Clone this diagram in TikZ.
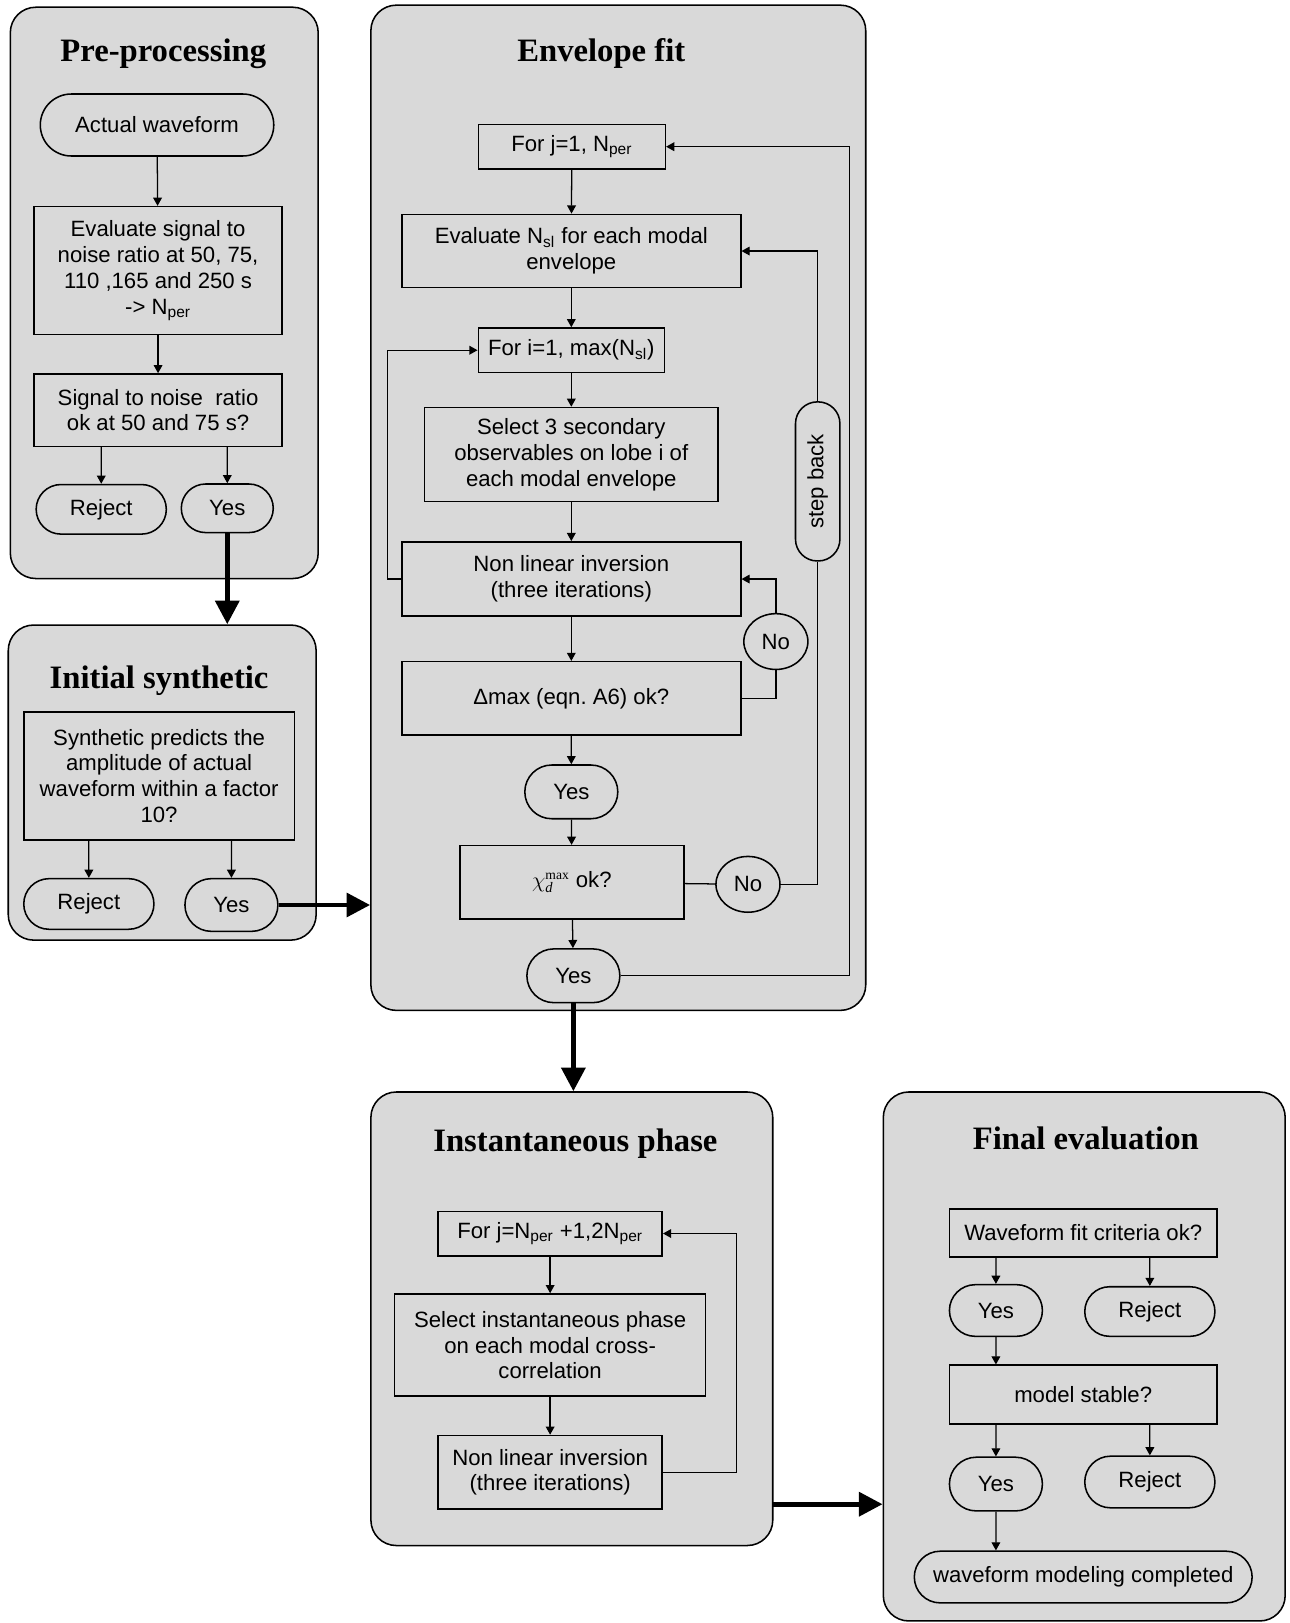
\documentclass[tikz,border=0pt]{standalone}
\usepackage{graphicx}
\usepackage{fontspec}
\setmainfont{Liberation Sans}
\newfontfamily\timesfont{Liberation Serif}
\usetikzlibrary{arrows.meta, shapes.misc, shapes.geometric}
\definecolor{panelgray}{HTML}{D9D9D9}
\newcommand{\bodysize}{\fontsize{12.2pt}{14.2pt}\selectfont}
\newcommand{\titlesize}{\timesfont\bfseries\fontsize{18pt}{20pt}\selectfont}

\begin{document}
\begin{tikzpicture}[x=0.02cm, y=-0.02cm, ->, >={Triangle[length=4.5pt, width=4.8pt]}, line width=0.7pt, font=\bodysize,
		panel/.style={draw, fill=panelgray, rounded corners=14pt, line width=0.85pt},
		title/.style={font=\titlesize, anchor=base},
		box/.style={draw, rectangle, align=center, inner sep=0pt, line width=0.85pt},
		term/.style={draw, rounded rectangle, inner sep=0pt, line width=0.85pt},
		answer/.style={draw, ellipse, inner sep=0pt, line width=0.85pt},
		sz/.style 2 args={minimum width=#1*0.02cm, minimum height=#2*0.02cm},
		big/.style={line width=2.6pt, -{Triangle[length=13pt, width=13pt]}}]
	\useasboundingbox (0,0) rectangle (1248,1571);
	
	\node[panel, sz={298}{553}] (pre) at (159,283.5) {};
	\node[panel, sz={298}{305}] (init) at (157,757.5) {};
	\node[panel, sz={479}{973}] (env) at (598.5,491.5) {};
	\node[panel, sz={389}{439}] (inst) at (553.5,1276.5) {};
	\node[panel, sz={389}{512}] (fin) at (1049.5,1313) {};
	
	\node[title] (pretitle) at (158,60) {Pre-processing};
	\node[title] (inittitle) at (154,666) {Initial synthetic};
	\node[title] (envtitle) at (582,60) {Envelope fit};
	\node[title] (insttitle) at (557,1115) {Instantaneous phase};
	\node[title] (fintitle) at (1051,1113) {Final evaluation};
	
	\node[term, sz={226}{60}] (preact) at (152,121) {Actual waveform};
	\node[box, sz={240}{124}] (preeval) at (153,262) {Evaluate signal to\\noise ratio at 50, 75,\\110 ,165 and 250 s\\-> N\textsubscript{per}};
	\node[box, sz={240}{70}] (presnr) at (153,397) {Signal to noise~ ratio\\ok at 50 and 75 s?};
	\node[term, sz={126}{48}] (prerej) at (98,493) {Reject};
	\node[term, sz={89}{47}] (preyes) at (220,492) {Yes};
	
	\node[box, sz={262}{124}] (initsyn) at (154,751) {Synthetic predicts the\\amplitude of actual\\waveform within a factor\\10?};
	\node[term, sz={126}{49}] (initrej) at (86,875) {Reject};
	\node[term, sz={90}{51}] (inityes) at (224,876) {Yes};
	
	\node[box, sz={181}{43}] (envforj) at (553.5,142) {For j=1, N\textsubscript{per}};
	\node[box, sz={328}{71}] (enveval) at (553,243) {Evaluate N\textsubscript{sl} for each modal\\envelope};
	\node[box, sz={180}{43}] (envfori) at (553,339) {For i=1, max(N\textsubscript{sl})};
	\node[box, sz={284}{91}] (envsel) at (553,440) {Select 3 secondary\\observables on lobe i of\\each modal envelope};
	\node[box, sz={328}{72}] (envnl) at (553,560.5) {Non linear inversion\\(three iterations)};
	\node[box, sz={328}{71}] (envdmax) at (553,676) {Δmax (eqn.\ A6) ok?};
	\node[answer, sz={62}{54}] (envno1) at (751,621) {No};
	\node[term, sz={90}{52}] (envyes1) at (553,766.5) {Yes};
	\node[box, sz={217}{71}] (envchi) at (553.5,854) {$\chi^{\mbox{\timesfont\fontsize{7.5pt}{8pt}\selectfont max}}_{\mbox{\timesfont\itshape\fontsize{8pt}{8pt}\selectfont d}}$ ok?};
	\node[answer, sz={62}{54}] (envno2) at (724,856) {No};
	\node[box, rounded corners=12pt, sz={43}{154}] (envstep) at (791.5,466) {\rotatebox{90}{step back}};
	\node[term, sz={90}{52}] (envyes2) at (555,944.5) {Yes};
	\coordinate (envback) at (822,0);
	
	\node[box, sz={217}{43}] (instforj) at (532.5,1194) {For j=N\textsubscript{per} +1,2N\textsubscript{per}};
	\node[box, sz={301}{99}] (instsel) at (532.5,1302) {Select instantaneous phase\\on each modal cross-\\correlation};
	\node[box, sz={217}{71}] (instnl) at (532.5,1425) {Non linear inversion\\(three iterations)};
	\coordinate (instout) at (748,1456);
	
	\node[box, sz={259}{46}] (finfit) at (1048.5,1193.5) {Waveform fit criteria ok?};
	\node[term, sz={90}{50}] (finyes1) at (964,1268.5) {Yes};
	\node[term, sz={126}{48}] (finrej1) at (1113,1269.5) {Reject};
	\node[box, sz={259}{57}] (finstab) at (1048.5,1350) {model stable?};
	\node[term, sz={90}{52}] (finyes2) at (964,1436.5) {Yes};
	\node[term, sz={126}{50}] (finrej2) at (1113,1434.5) {Reject};
	\node[term, sz={327}{50}] (findone) at (1048.5,1526.5) {waveform modeling completed};
	
	\path (preact) edge (preeval)
		(preeval) edge (presnr)
		(presnr.south -| prerej) edge (prerej)
		(presnr.south -| preyes) edge (preyes)
		(initsyn.south -| initrej) edge (initrej)
		(initsyn.south -| inityes) edge (inityes)
		(envforj) edge (enveval)
		(enveval) edge (envfori)
		(envfori) edge (envsel)
		(envsel) edge (envnl)
		(envnl) edge (envdmax)
		(envdmax) edge (envyes1)
		(envyes1) edge (envchi)
		(envchi) edge (envyes2)
		(instforj) edge (instsel)
		(instsel) edge (instnl)
		(finfit.south -| finyes1) edge (finyes1)
		(finfit.south -| finrej1) edge (finrej1)
		(finyes1) edge (finyes1 |- finstab.north)
		(finstab.south -| finyes2) edge (finyes2)
		(finstab.south -| finrej2) edge (finrej2)
		(finyes2) edge (finyes2 |- findone.north);
	
	\draw (envnl.west) -- ++(-13,0) |- (envfori.west);
	\draw[-] (envdmax.east) -| (envno1.south);
	\draw (envno1.north) |- (envnl.east);
	\draw[-] (envchi) -- (envno2);
	\draw[-] (envno2.east) -| (envstep.south);
	\draw (envstep.north) |- (enveval.east);
	\draw (envyes2.east) -| (envback |- envforj.east) -- (envforj.east);
	\draw (instnl.east) -- ++(71,0) |- (instforj.east);
	
	\draw[big] (preyes.south) -- (preyes.south |- init.north);
	\draw[big] (inityes.east) -- (inityes.east -| env.west);
	\draw[big] (envyes2.south) -- (envyes2.south |- inst.north);
	\draw[big] (instout) -- (instout -| fin.west);
\end{tikzpicture}
\end{document}
